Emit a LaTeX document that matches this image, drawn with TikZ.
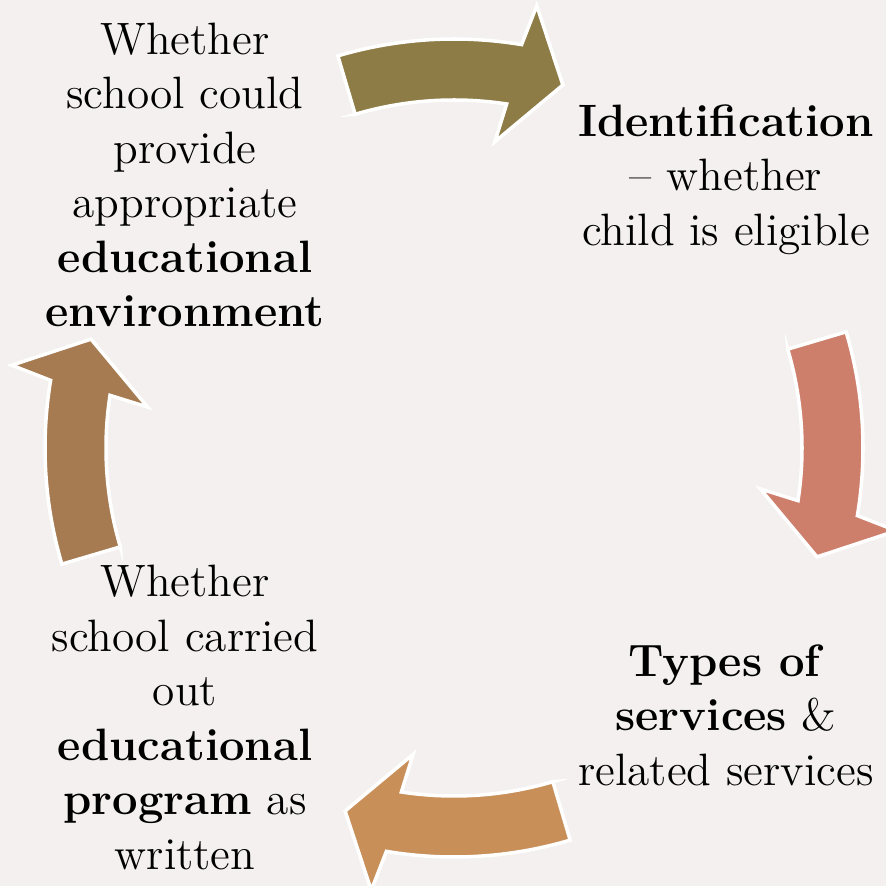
\documentclass[tikz,border=0pt]{standalone}
\usepackage{fontspec}
\definecolor{bgcol}{HTML}{F3F0EF}
\definecolor{arrOlive}{HTML}{8D7C45}
\definecolor{arrSalmon}{HTML}{CE7F6C}
\definecolor{arrTan}{HTML}{C98F59}
\definecolor{arrBrown}{HTML}{A67B52}

\begin{document}
\begin{tikzpicture}[x=0.01cm, y=0.01cm,
    cyclearrow/.style={draw=white, line width=1pt, line join=miter},
    steptext/.style={inner sep=0pt, align=center, font=\fontsize{12.9}{15.5}\selectfont}]
  \path[use as bounding box, fill=bgcol] (-454, -438) rectangle (432, 448);

  % four curved arrows round the centre, a quarter turn apart
  \foreach \t/\c in {106.5/arrOlive, 16.5/arrSalmon, -73.5/arrTan, -163.5/arrBrown}
    \draw[cyclearrow, fill=\c] (\t:348) -- (\t:409)
      arc[start angle=\t, end angle=\t-26, radius=4.09cm]
      -- (\t-27.1:450) -- (\t-33.2:379) -- (\t-24.1:309) -- (\t-25.2:348)
      arc[start angle=\t-25.2, end angle=\t, radius=3.48cm] -- cycle;

  \node[steptext] (environ) at (-269, 273)
    {Whether\\school could\\provide\\appropriate\\\textbf{educational}\\\textbf{environment}};
  \node[steptext] (ident) at (272, 268.5)
    {\textbf{Identification}\\-- whether\\child is eligible};
  \node[steptext] (types) at (272, -267)
    {\textbf{Types of}\\\textbf{services} \&\\related services};
  \node[steptext] (program) at (-269, -269.5)
    {Whether\\school carried\\out\\\textbf{educational}\\\textbf{program} as\\written};
\end{tikzpicture}
\end{document}
